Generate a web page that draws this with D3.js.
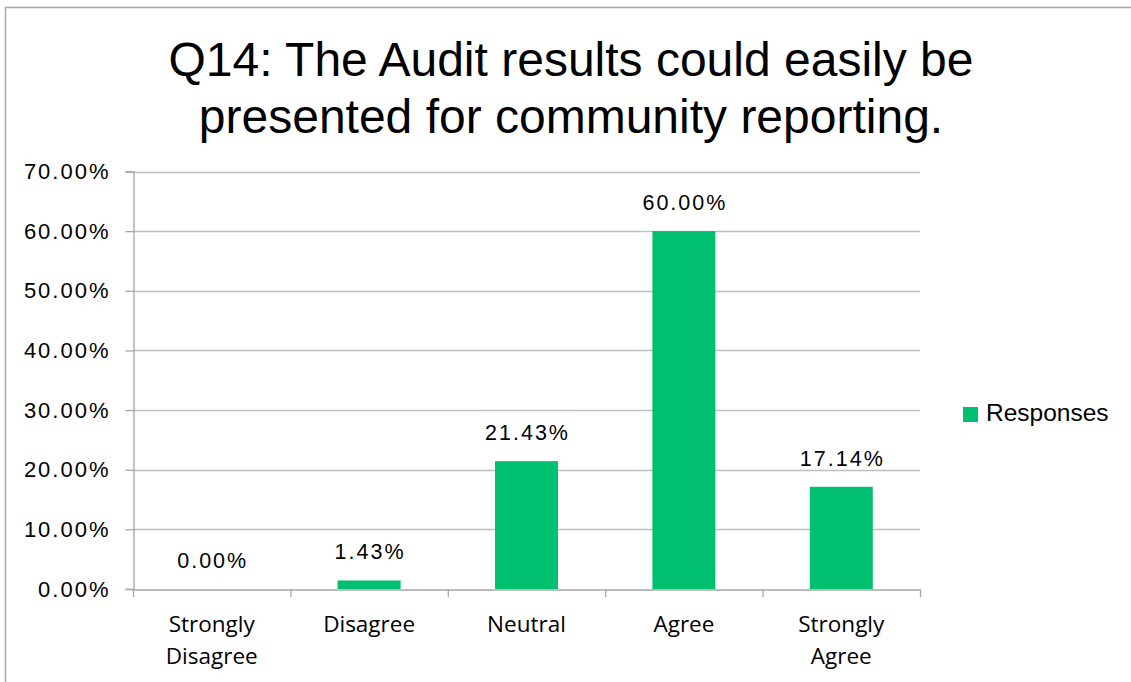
<!DOCTYPE html>
<html><head><meta charset="utf-8">
<script src="https://cdn.jsdelivr.net/npm/d3@7"></script>
<style>body{margin:0;background:#fff}svg{display:block}</style>
</head><body>
<svg id="c" width="1131" height="682"></svg>
<script>
const categories = [["Strongly","Disagree"],["Disagree"],["Neutral"],["Agree"],["Strongly","Agree"]];
const values = [0.0, 0.0143, 0.2143, 0.60, 0.1714];
const yTicks = [0,0.1,0.2,0.3,0.4,0.5,0.6,0.7];
const titleLines = ["Q14: The Audit results could easily be","presented for community reporting."];
const seriesName = "Responses";
const color = "#00BF6F";

const svg = d3.select("#c");
svg.append("rect").attr("x",5.5).attr("y",7.5).attr("width",1140).attr("height",700)
  .attr("fill","#fff").attr("stroke","#a6a6a6").attr("stroke-width",1.5);

const L=133,R=920,T=171.5,B=589;
const x = d3.scaleBand().domain(d3.range(categories.length)).range([L,R]).paddingInner(0.6).paddingOuter(0.3);
const xb = d3.scaleBand().domain(d3.range(categories.length)).range([L,R]);
const y = d3.scaleLinear().domain([0,0.7]).range([B,T]);

svg.append("g").selectAll("text").data(titleLines).join("text")
  .attr("x",571).attr("y",(d,i)=>76+i*57).attr("text-anchor","middle")
  .attr("font-family","Liberation Sans, Arial, sans-serif").attr("font-size",48).attr("fill","#000").text(d=>d);

svg.append("g").selectAll("line").data(yTicks.slice(1)).join("line")
  .attr("x1",L).attr("x2",R).attr("y1",d=>Math.round(y(d))+0.5).attr("y2",d=>Math.round(y(d))+0.5)
  .attr("stroke","#bfbfbf").attr("stroke-width",1.3);

const yAxis = svg.append("g").attr("transform",`translate(${L+0.5},0)`)
  .call(d3.axisLeft(y).tickValues(yTicks).tickFormat(d=>(d*100).toFixed(2)+"%").tickSize(8).tickPadding(15));
yAxis.select(".domain").attr("stroke","#a6a6a6").attr("stroke-width",1.3);
yAxis.selectAll(".tick line").attr("stroke","#a6a6a6").attr("stroke-width",1.3);
yAxis.selectAll(".tick text").attr("font-family","Liberation Sans, Arial, sans-serif").attr("font-size",22)
  .attr("letter-spacing",2).attr("fill","#000");

svg.append("g").selectAll("rect").data(values).join("rect")
  .attr("x",(d,i)=>x(i)).attr("width",x.bandwidth())
  .attr("y",d=>y(d)).attr("height",d=>B-y(d)).attr("fill",color);

const xAxis = svg.append("g").attr("transform",`translate(0,${B+0.5})`)
  .call(d3.axisBottom(xb).tickSize(0).tickFormat(""));
xAxis.select(".domain").attr("stroke","#a6a6a6").attr("stroke-width",1.3);
svg.append("g").selectAll("line").data(d3.range(categories.length+1)).join("line")
  .attr("x1",i=>L+i*xb.step()+0.5).attr("x2",i=>L+i*xb.step()+0.5).attr("y1",B).attr("y2",B+8)
  .attr("stroke","#a6a6a6").attr("stroke-width",1.3);

const cl = svg.append("g").selectAll("text").data(categories).join("text")
  .attr("text-anchor","middle").attr("font-family","Open Sans, sans-serif").attr("font-size",22.5).attr("fill","#000");
cl.each(function(lines,i){
  d3.select(this).selectAll("tspan").data(lines).join("tspan")
    .attr("x",xb(i)+xb.bandwidth()/2).attr("y",(d,j)=>632+j*32).text(d=>d);
});

svg.append("g").selectAll("text").data(values).join("text")
  .attr("x",(d,i)=>x(i)+x.bandwidth()/2+1).attr("y",d=>y(d)-21)
  .attr("text-anchor","middle").attr("font-family","Liberation Sans, Arial, sans-serif").attr("font-size",21.5)
  .attr("letter-spacing",2).attr("fill","#000").text(d=>(d*100).toFixed(2)+"%");

svg.append("rect").attr("x",963).attr("y",407).attr("width",15).attr("height",15).attr("fill",color);
svg.append("text").attr("x",986).attr("y",421).attr("font-family","Liberation Sans, Arial, sans-serif")
  .attr("font-size",24.5).attr("fill","#000").text(seriesName);
</script>
</body></html>
